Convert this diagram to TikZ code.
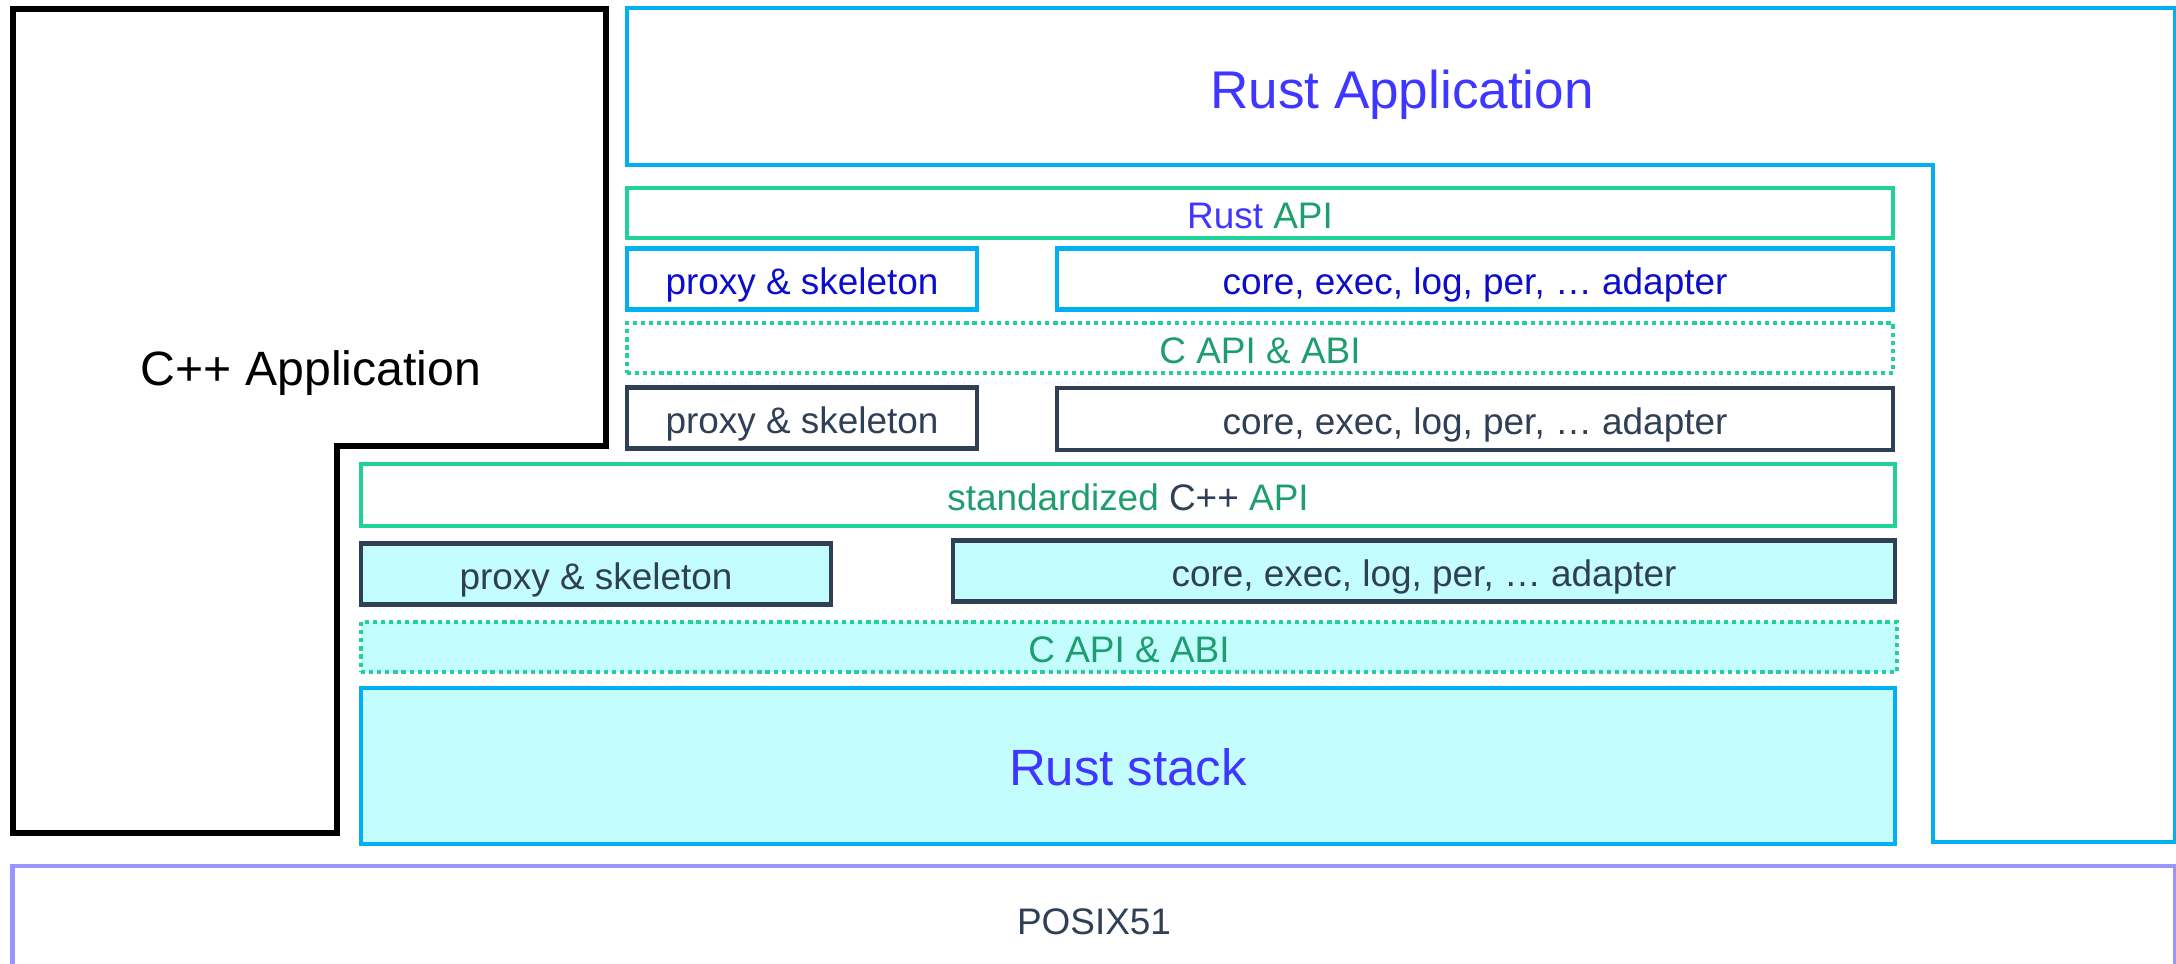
\documentclass[tikz,border=0pt]{standalone}
\usepackage{fontspec}
\setmainfont{Liberation Sans}
\usepackage{xcolor}

\definecolor{rustblue}{HTML}{3F37FF}
\definecolor{proxyblue}{HTML}{0C0CCB}
\definecolor{apigreen}{HTML}{1E9E6E}
\definecolor{slate}{HTML}{2F3F55}
\definecolor{lineblue}{HTML}{00B0F0}
\definecolor{linegreen}{HTML}{22D09A}
\definecolor{stackcyan}{HTML}{C4FDFD}
\definecolor{posixviolet}{HTML}{9B96FF}

\begin{document}
\begin{tikzpicture}[
  x=0.01cm, y=-0.01cm,
  boxw/.style={minimum width=#1*0.01cm},
  boxh/.style={minimum height=#1*0.01cm},
  layer/.style={
    draw, line width=1.2pt, rectangle, inner sep=0pt,
    text height=10pt, text depth=1.2pt,
    font=\fontsize{10.5}{12}\selectfont, align=center
  },
  rustbox/.style={layer, draw=lineblue, text=proxyblue},
  cppbox/.style={layer, draw=slate, text=slate},
  apibox/.style={layer, draw=linegreen, text=apigreen},
  abibox/.style={layer, draw=linegreen, text=apigreen,
    dash pattern=on 1.2pt off 1.1pt},
  stack/.style={fill=stackcyan},
  biglabel/.style={font=\fontsize{#1}{#1}\selectfont, inner sep=0pt},
]
\useasboundingbox (0,0) rectangle (2176,964);

% application frames
\draw[line width=1.5pt, black]
  (13,9) -- (606,9) -- (606,446) -- (337,446) -- (337,833) -- (13,833) -- cycle;
\draw[line width=1.2pt, lineblue]
  (627,8) -- (2175,8) -- (2175,842) -- (1933,842) -- (1933,165) -- (627,165) -- cycle;
\node[biglabel=13.7, text height=12.4pt, text depth=2.1pt] (cppapp)
  at (311,367) {C++ Application};
\node[biglabel=15.1, text height=13.7pt, text depth=1.9pt, text=rustblue] (rustapp)
  at (1402,88) {Rust Application};

% Rust binding layers
\node[apibox, boxw=1266, boxh=50] (rustapi) at (1260,213)
  {\textcolor{rustblue}{Rust} API};
\node[rustbox, boxw=350, boxh=61] (proxyR) at (802,279) {proxy \& skeleton};
\node[rustbox, boxw=836, boxh=61] (adaptR) at (1475,279)
  {core, exec, log, per, … adapter};
\node[abibox, boxw=1266, boxh=50] (capiR) at (1260,348) {C API \& ABI};

% C++ binding layers
\node[cppbox, boxw=350, boxh=61] (proxyC) at (802,418) {proxy \& skeleton};
\node[cppbox, boxw=836, boxh=62] (adaptC) at (1475,419)
  {core, exec, log, per, … adapter};
\node[apibox, boxw=1534, boxh=62] (stdapi) at (1128,495)
  {standardized \textcolor{slate}{C++} API};

% Rust stack
\node[cppbox, stack, boxw=470, boxh=61] (proxyS) at (596,574) {proxy \& skeleton};
\node[cppbox, stack, boxw=942, boxh=61] (adaptS) at (1424,571)
  {core, exec, log, per, … adapter};
\node[abibox, stack, boxw=1536, boxh=50] (capiS) at (1129,647) {C API \& ABI};
\node[layer, stack, draw=lineblue, text=rustblue, boxw=1534, boxh=156,
  font=\fontsize{14.5}{16}\selectfont, text height=13.1pt, text depth=1.9pt]
  (ruststack) at (1128,766) {Rust stack};

% OS
\node[layer, draw=posixviolet, text=slate, boxw=2163, boxh=110,
  text height=9.5pt, text depth=2pt] (posix) at (1094,921) {POSIX51};
\end{tikzpicture}
\end{document}
